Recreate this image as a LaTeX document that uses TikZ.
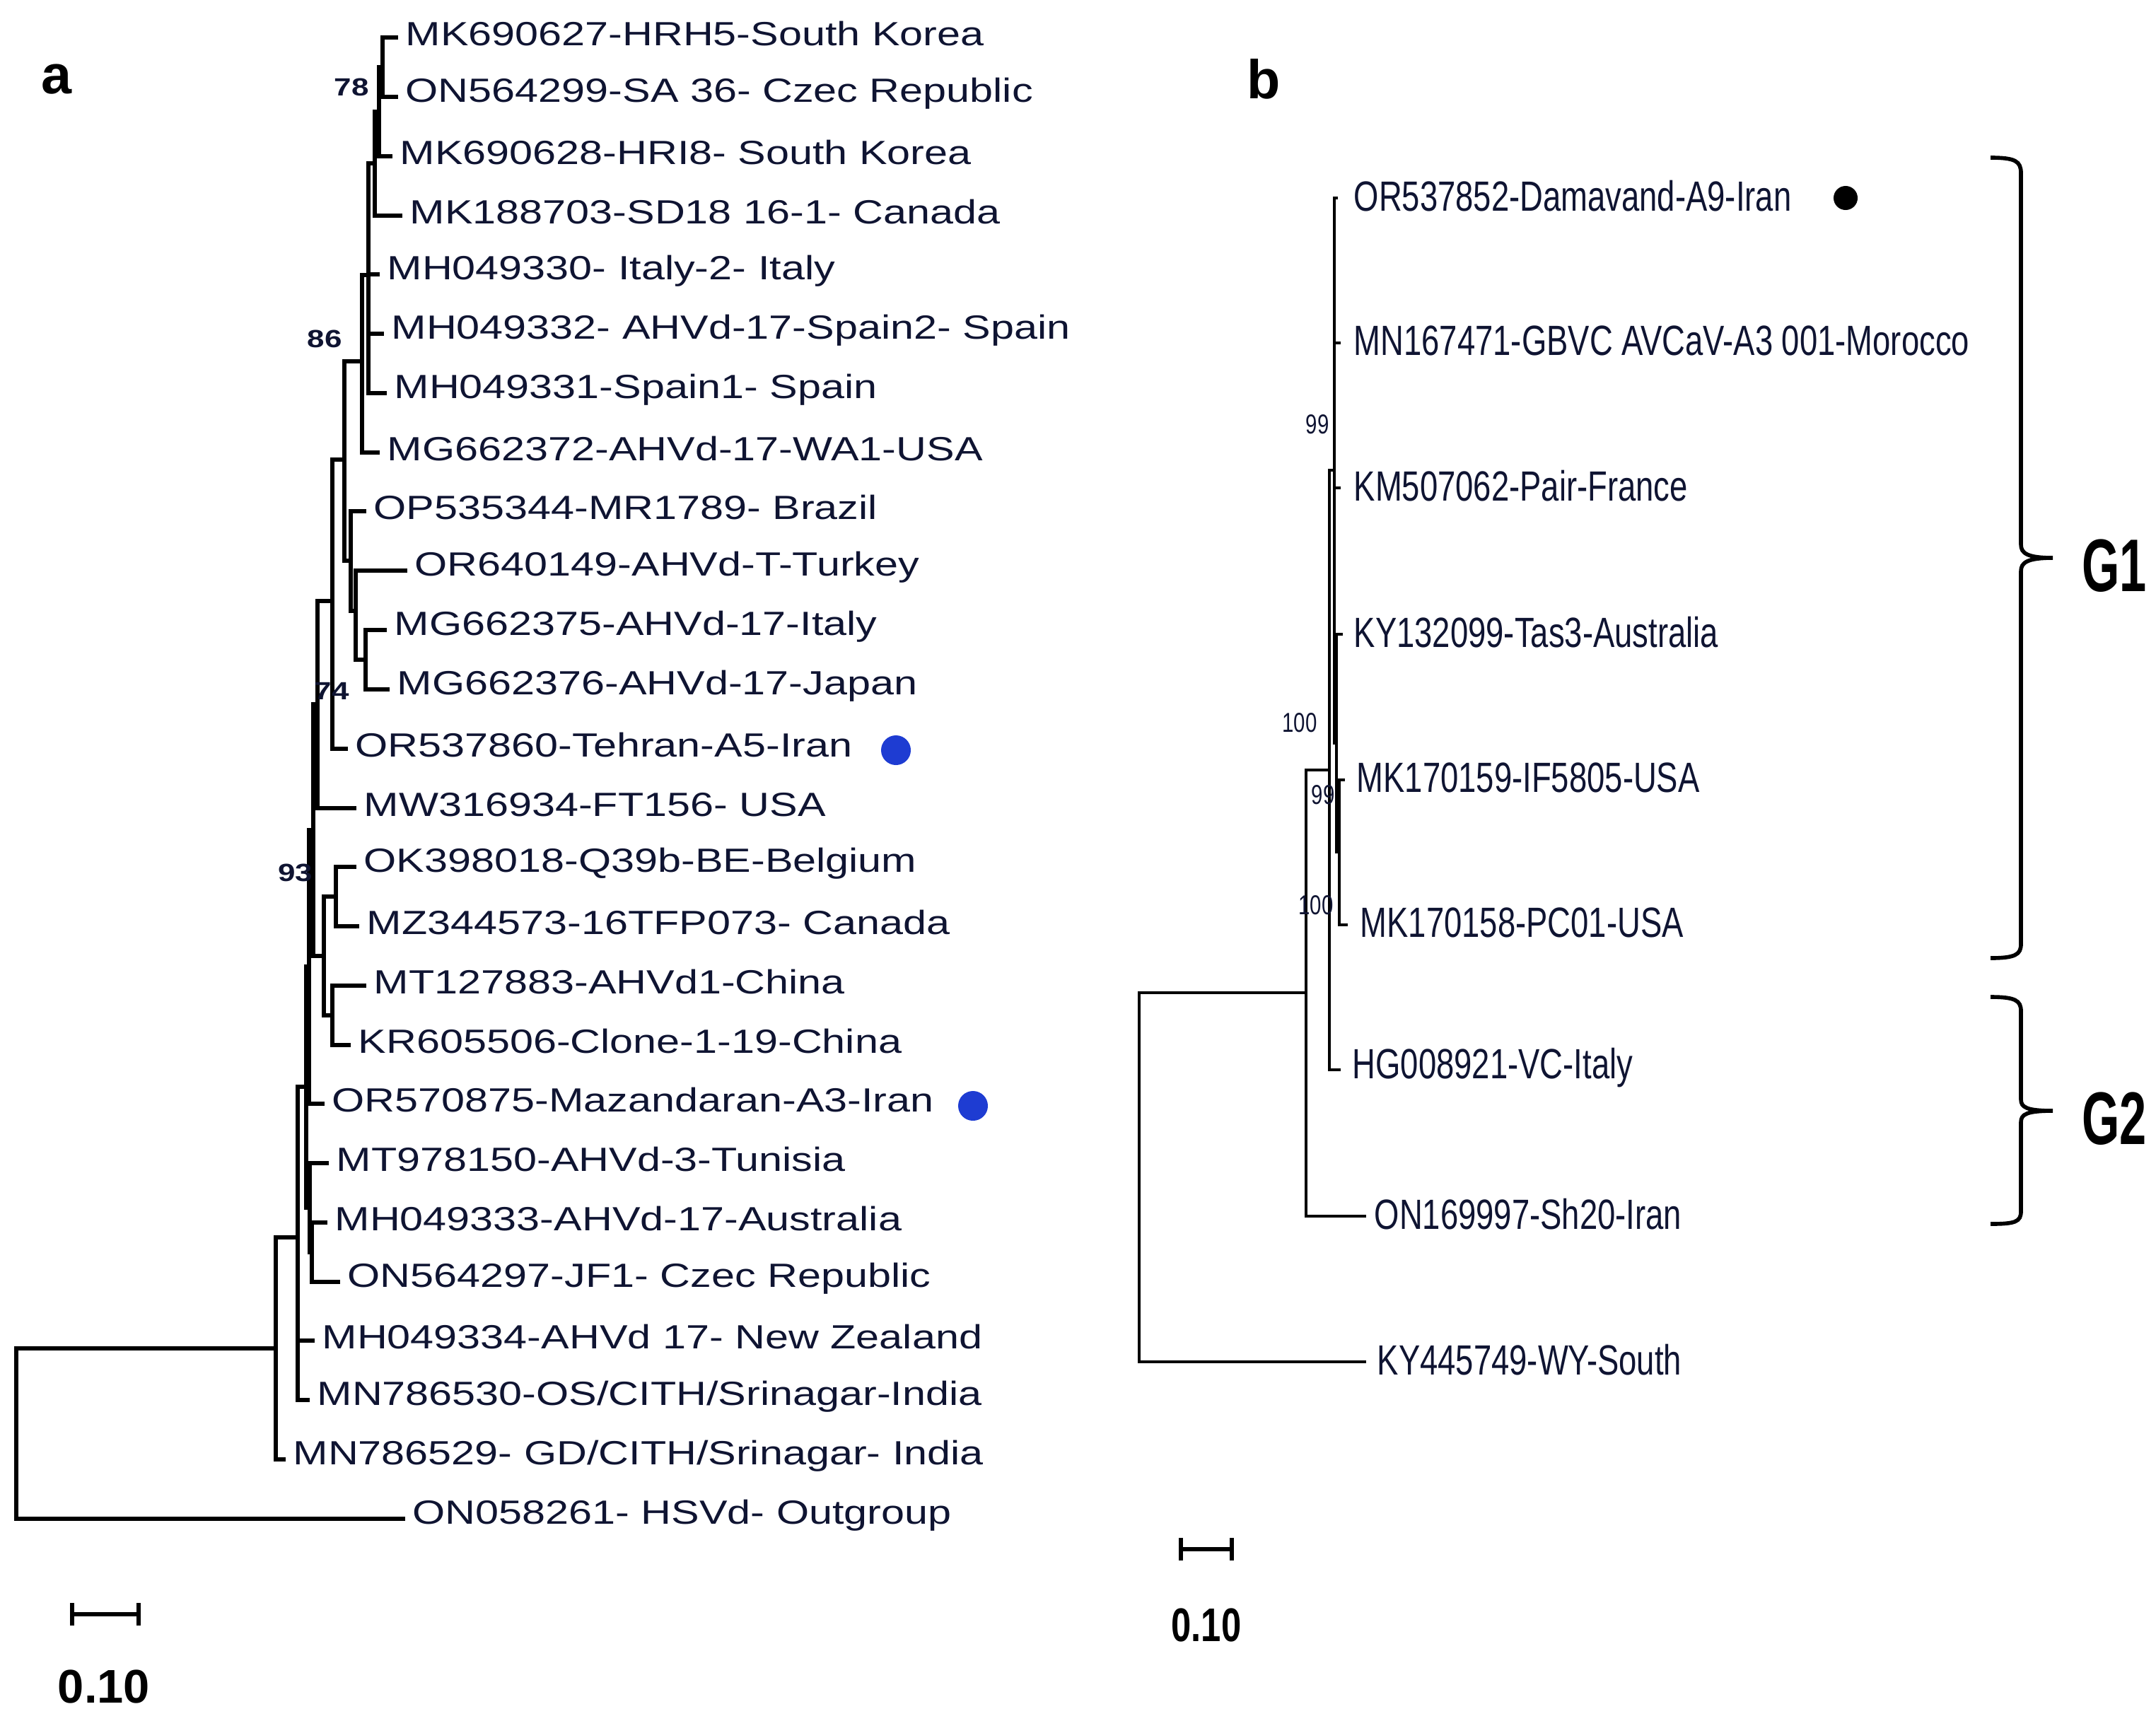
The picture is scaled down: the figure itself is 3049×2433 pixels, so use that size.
\documentclass[tikz,border=0pt]{standalone}
\usepackage{fontspec}
\setmainfont{Liberation Sans}
\newfontfamily\wideA[FakeStretch=1.25]{Liberation Sans}
\newfontfamily\narrowB[FakeStretch=0.76]{Liberation Sans}
\newfontfamily\narrowG[FakeStretch=0.65]{Liberation Sans}
\definecolor{labcol}{RGB}{15,20,50}
\definecolor{dotblue}{RGB}{30,60,210}
\begin{document}
\begin{tikzpicture}[x=0.01cm,y=-0.01cm,
  labA/.style={anchor=west,inner sep=0pt,yshift=0.05cm,text=labcol,font=\wideA\fontsize{13.5}{15}\selectfont},
  labB/.style={anchor=west,inner sep=0pt,yshift=0.03cm,xshift=-0.08cm,text=labcol,font=\narrowB\fontsize{17}{19}\selectfont},
  bootA/.style={inner sep=0pt,text=labcol,font=\wideA\bfseries\fontsize{10}{12}\selectfont},
  bootB/.style={inner sep=0pt,text=labcol,font=\narrowB\fontsize{11}{13}\selectfont},
  brA/.style={line width=1.5pt,line cap=rect},
  brB/.style={line width=1.2pt,line cap=rect},
  brace/.style={line width=1.6pt},
  ]
\useasboundingbox (0,0) rectangle (3049,2433);
% ---------- panel a labels
\foreach \n/\x/\y/\t in {
 a0/573/53/{MK690627-HRH5-South Korea},
 a1/573/137/{ON564299-SA 36- Czec Republic},
 a2/565/221/{MK690628-HRI8- South Korea},
 a3/579/305/{MK188703-SD18 16-1- Canada},
 a4/547/388/{MH049330- Italy-2- Italy},
 a5/553/472/{MH049332- AHVd-17-Spain2- Spain},
 a6/557/556/{MH049331-Spain1- Spain},
 a7/547/640/{MG662372-AHVd-17-WA1-USA},
 a8/528/723/{OP535344-MR1789- Brazil},
 a9/586/807/{OR640149-AHVd-T-Turkey},
 a10/557/891/{MG662375-AHVd-17-Italy},
 a11/561/975/{MG662376-AHVd-17-Japan},
 a12/502/1059/{OR537860-Tehran-A5-Iran},
 a13/514/1143/{MW316934-FT156- USA},
 a14/514/1226/{OK398018-Q39b-BE-Belgium},
 a15/518/1310/{MZ344573-16TFP073- Canada},
 a16/528/1394/{MT127883-AHVd1-China},
 a17/506/1478/{KR605506-Clone-1-19-China},
 a18/469/1561/{OR570875-Mazandaran-A3-Iran},
 a19/475/1645/{MT978150-AHVd-3-Tunisia},
 a20/473/1729/{MH049333-AHVd-17-Australia},
 a21/491/1813/{ON564297-JF1- Czec Republic},
 a22/455/1896/{MH049334-AHVd 17- New Zealand},
 a23/448/1980/{MN786530-OS/CITH/Srinagar-India},
 a24/414/2064/{MN786529- GD/CITH/Srinagar- India},
 a25/583/2148/{ON058261- HSVd- Outgroup}}
 {\node[labA] (\n) at (\x,\y) {\t};}
% tips a
\foreach \n/\x/\y in {a0/541/53,a1/541/137,a2/536/221,a3/530/305,a4/521/388,a5/521/472,a6/521/556,a7/512/640,a8/496/723,a9/503/807,
  a10/517/891,a11/517/975,a12/470/1059,a13/449/1143,a14/475/1226,a15/475/1310,a16/470/1394,a17/470/1478,a18/437/1561,a19/438/1645,
  a20/441/1729,a21/441/1813,a22/421/1896,a23/421/1980,a24/390/2064,a25/23/2148}
 {\draw[brA] (\x,\y) -- ([xshift=-0.13cm]\n.west |- 0,\y);}
% internal verticals and connectors a
\draw[brA] (541,53) -- (541,137);
\draw[brA] (536,95) -- (536,221) (536,95) -- (541,95);
\draw[brA] (530,158) -- (530,305) (530,158) -- (536,158);
\draw[brA] (521,231) -- (521,556) (521,231) -- (530,231);
\draw[brA] (512,389) -- (512,640) (512,389) -- (521,389);
\draw[brA] (517,891) -- (517,975);
\draw[brA] (503,807) -- (503,933) (503,933) -- (517,933);
\draw[brA] (496,723) -- (496,864) (496,864) -- (503,864);
\draw[brA] (487,511) -- (487,793) (487,511) -- (512,511) (487,793) -- (496,793);
\draw[brA] (470,650) -- (470,1059) (470,650) -- (487,650);
\draw[brA] (449,850) -- (449,1143) (449,850) -- (470,850);
\draw[brA] (475,1226) -- (475,1310);
\draw[brA] (470,1394) -- (470,1478);
\draw[brA] (458,1268) -- (458,1436) (458,1268) -- (475,1268) (458,1436) -- (470,1436);
\draw[brA] (443,996) -- (443,1352) (443,996) -- (449,996) (443,1352) -- (458,1352);
\draw[brA] (437,1174) -- (437,1561) (437,1174) -- (443,1174);
\draw[brA] (441,1729) -- (441,1813);
\draw[brA] (438,1645) -- (438,1771) (438,1771) -- (441,1771);
\draw[brA] (433,1367) -- (433,1708) (433,1367) -- (437,1367) (433,1708) -- (438,1708);
\draw[brA] (421,1537) -- (421,1980) (421,1537) -- (433,1537);
\draw[brA] (390,1750) -- (390,2064) (390,1750) -- (421,1750);
\draw[brA] (23,1907) -- (23,2148) (23,1907) -- (390,1907);
% bootstraps a
\node[bootA] (ba1) at (497,123) {78};
\node[bootA] (ba2) at (459,479) {86};
\node[bootA] (ba3) at (469,977) {74};
\node[bootA] (ba4) at (418,1234) {93};
% dots a
\node[circle,fill=dotblue,minimum size=0.42cm,inner sep=0pt] (da1) at (1267,1061) {};
\node[circle,fill=dotblue,minimum size=0.42cm,inner sep=0pt] (da2) at (1376,1564) {};
% scale a
\draw[line width=1.8pt] (102,2283) -- (196,2283) (102,2267) -- (102,2299) (196,2267) -- (196,2299);
\node[inner sep=0pt,font=\bfseries\fontsize{19}{21}\selectfont] (sa) at (147,2385) {0.10};
\node[inner sep=0pt,font=\bfseries\fontsize{22}{24}\selectfont] (pa) at (80,112) {a};
\node[inner sep=0pt,font=\bfseries\fontsize{22}{24}\selectfont] (pb) at (1787,112) {b};
% ---------- panel b
\foreach \n/\x/\y/\t in {
 b0/1922/280/{OR537852-Damavand-A9-Iran},
 b1/1922/485/{MN167471-GBVC AVCaV-A3 001-Morocco},
 b2/1922/690/{KM507062-Pair-France},
 b3/1922/897/{KY132099-Tas3-Australia},
 b4/1926/1103/{MK170159-IF5805-USA},
 b5/1931/1308/{MK170158-PC01-USA},
 b6/1920/1513/{HG008921-VC-Italy},
 b7/1951/1720/{ON169997-Sh20-Iran},
 b8/1955/1926/{KY445749-WY-South}}
 {\node[labB] (\n) at (\x,\y) {\t};}
\foreach \n/\x/\y/\e in {b0/1887/280/1890,b1/1887/485/1894,b2/1887/690/1894,b3/1890/897/1897,b4/1894/1103/1900,b5/1894/1308/1904,b6/1880/1513/1894,b7/1847/1720/1930,b8/1611/1926/1930}
 {\draw[brB] (\x,\y) -- (\e,\y);}
\draw[brB] (1894,1103) -- (1894,1308);
\draw[brB] (1890,897) -- (1890,1205) (1890,1205) -- (1894,1205);
\draw[brB] (1887,280) -- (1887,1051) (1887,1051) -- (1890,1051);
\draw[brB] (1880,665) -- (1880,1513) (1880,665) -- (1887,665);
\draw[brB] (1847,1089) -- (1847,1720) (1847,1089) -- (1880,1089);
\draw[brB] (1611,1404) -- (1611,1926) (1611,1404) -- (1847,1404);
\node[bootB] (bb1) at (1863,600) {99};
\node[bootB] (bb2) at (1838,1022) {100};
\node[bootB] (bb3) at (1871,1124) {99};
\node[bootB] (bb4) at (1861,1280) {100};
\node[circle,fill=black,minimum size=0.34cm,inner sep=0pt] (db) at (2610,280) {};
\draw[line width=1.8pt] (1670,2191) -- (1742,2191) (1670,2175) -- (1670,2207) (1742,2175) -- (1742,2207);
\node[inner sep=0pt,font=\narrowB\bfseries\fontsize{19}{21}\selectfont] (sb) at (1706,2298) {0.10};
% braces
\draw[brace] (2815,223) .. controls (2850,223) and (2858,228) .. (2858,245) -- (2858,770)
  .. controls (2858,782) and (2866,789) .. (2903,789)
  .. controls (2866,789) and (2858,796) .. (2858,808) -- (2858,1335)
  .. controls (2858,1350) and (2850,1355) .. (2815,1355);
\draw[brace] (2815,1410) .. controls (2850,1410) and (2858,1415) .. (2858,1430) -- (2858,1555)
  .. controls (2858,1566) and (2866,1571) .. (2903,1571)
  .. controls (2866,1571) and (2858,1576) .. (2858,1587) -- (2858,1713)
  .. controls (2858,1728) and (2850,1731) .. (2815,1731);
\node[inner sep=0pt,font=\narrowG\bfseries\fontsize{30}{32}\selectfont] (g1) at (2990,800) {G1};
\node[inner sep=0pt,font=\narrowG\bfseries\fontsize{30}{32}\selectfont] (g2) at (2990,1582) {G2};
\end{tikzpicture}
\end{document}
